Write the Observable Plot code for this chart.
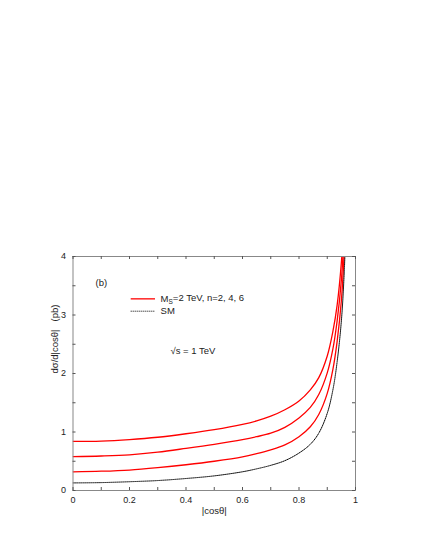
<!DOCTYPE html>
<html><head><meta charset="utf-8">
<script src="https://cdn.jsdelivr.net/npm/d3@7"></script>
<script src="https://cdn.jsdelivr.net/npm/@observablehq/plot@0.6"></script>
<style>
html,body{margin:0;padding:0;background:#fff;}
#chart svg{display:block;}
</style>
</head><body><div id="chart"></div>
<script>
// ---- data ----
const cosTheta = [0, 0.1, 0.2, 0.3, 0.4, 0.5, 0.6, 0.65, 0.7, 0.75, 0.8, 0.84, 0.87, 0.9, 0.92, 0.935, 0.95, 0.96, 0.97];
const ms2_n2 = [0.84, 0.845, 0.87, 0.91, 0.97, 1.04, 1.13, 1.19, 1.27, 1.38, 1.53, 1.72, 1.93, 2.30, 2.72, 3.17, 3.90, 4.72, 6.10];
const ms2_n4 = [0.58, 0.59, 0.61, 0.655, 0.72, 0.79, 0.87, 0.92, 0.98, 1.08, 1.24, 1.42, 1.64, 2.01, 2.42, 2.90, 3.60, 4.42, 5.80];
const ms2_n6 = [0.32, 0.33, 0.35, 0.39, 0.44, 0.50, 0.575, 0.63, 0.695, 0.78, 0.92, 1.09, 1.30, 1.66, 2.07, 2.55, 3.25, 4.07, 5.45];
const sm     = [0.13, 0.135, 0.15, 0.17, 0.205, 0.25, 0.32, 0.37, 0.43, 0.51, 0.64, 0.79, 0.98, 1.32, 1.72, 2.20, 2.90, 3.72, 5.10];

const xTicks = [0, 0.1, 0.2, 0.3, 0.4, 0.5, 0.6, 0.7, 0.8, 0.9, 1];
const xTickLabels = [0, 0.2, 0.4, 0.6, 0.8, 1];
const yTicks = [0, 0.5, 1, 1.5, 2, 2.5, 3, 3.5, 4];
const yTickLabels = [0, 1, 2, 3, 4];

const xLabel = "|cosθ|";
const yLabel = "dσ/d|cosθ|\u00a0\u00a0\u00a0(pb)";
const panelLabel = "(b)";
const legendNP = "M_S=2 TeV, n=2, 4, 6";
const legendSM = "SM";
const energyNote = "√s = 1 TeV";

// ---- build table ----
const redSeries = [["n=2", ms2_n2], ["n=4", ms2_n4], ["n=6", ms2_n6]];
const redRows = redSeries.flatMap(([name, ys]) => cosTheta.map((x, i) => ({series: name, x, y: ys[i]})));
const smRows = cosTheta.map((x, i) => ({series: "SM", x, y: sm[i]}));

// ---- layout / style ----
const W = 428, H = 554;
const M = {left: 72.5, right: 73, top: 256, bottom: 64};
const frameW = W - M.left - M.right, frameH = H - M.top - M.bottom;
const RED = "#ff0000";
const GRAY = "#888";
const TICKCOLOR = "#555";
const TXT = "#222";
const TICK = 3;
const SMDASH = "1,1";
const legendX1 = 0.206, legendX2 = 0.292, legendTextX = 0.31;
const legendYNP = 3.276, legendYSM = 3.065;

const chart = Plot.plot({
  width: W,
  height: H,
  marginLeft: M.left,
  marginRight: M.right,
  marginTop: M.top,
  marginBottom: M.bottom,
  style: {fontFamily: "'Liberation Sans', Arial, Helvetica, sans-serif", fontSize: "9px", color: TXT, background: "#fff"},
  x: {domain: [0, 1]},
  y: {domain: [0, 4]},
  marks: [
    Plot.line(redRows, {x: "x", y: "y", z: "series", stroke: RED, strokeWidth: 1.3, curve: "catmull-rom", clip: true}),
    Plot.line(smRows, {x: "x", y: "y", stroke: "#000", strokeWidth: 1, strokeDasharray: SMDASH, curve: "catmull-rom", clip: true}),
    Plot.frame({stroke: GRAY, strokeWidth: 1}),
    // inward ticks on all four sides
    Plot.tickX(xTicks, {x: d => d, stroke: TICKCOLOR, strokeWidth: 1, insetTop: frameH - TICK}),
    Plot.tickX(xTicks, {x: d => d, stroke: TICKCOLOR, strokeWidth: 1, insetBottom: frameH - TICK}),
    Plot.tickY(yTicks, {y: d => d, stroke: TICKCOLOR, strokeWidth: 1, insetRight: frameW - TICK}),
    Plot.tickY(yTicks, {y: d => d, stroke: TICKCOLOR, strokeWidth: 1, insetLeft: frameW - TICK}),
    // tick labels
    Plot.axisX(xTickLabels, {anchor: "bottom", tickSize: 0, tickPadding: 6, fontSize: 9, fill: TXT, label: null, tickFormat: d => String(d)}),
    Plot.axisY(yTickLabels, {anchor: "left", tickSize: 0, tickPadding: 7, fontSize: 9, fill: TXT, label: null, tickFormat: d => String(d)}),
    // axis titles
    Plot.text([xLabel], {text: d => d, frameAnchor: "bottom", dy: 23, fontSize: 9.5, fill: TXT}),
    Plot.text([yLabel], {text: d => d, frameAnchor: "left", dx: -18.5, rotate: -90, fontSize: 9.5, fill: TXT}),
    // annotations
    Plot.text([panelLabel], {x: 0.08, y: 3.555, text: d => d, textAnchor: "start", fontSize: 9.5, fill: TXT}),
    Plot.ruleY([legendYNP], {x1: legendX1, x2: legendX2, stroke: RED, strokeWidth: 1.3}),
    Plot.ruleY([legendYSM], {x1: legendX1, x2: legendX2, stroke: "#000", strokeWidth: 1, strokeDasharray: SMDASH}),
    Plot.text([legendNP], {x: legendTextX, y: legendYNP, text: d => d, textAnchor: "start", fontSize: 9.5, fill: TXT}),
    Plot.text([legendSM], {x: legendTextX, y: legendYSM, text: d => d, textAnchor: "start", fontSize: 9.5, fill: TXT}),
    Plot.text([energyNote], {x: 0.345, y: 2.38, text: d => d, textAnchor: "start", fontSize: 9.5, fill: TXT})
  ]
});

document.getElementById("chart").appendChild(chart);

// subscript S in the legend label
d3.select(chart).selectAll("text").each(function() {
  if (this.textContent === legendNP) {
    const t = d3.select(this);
    t.text(null);
    t.append("tspan").text("M");
    t.append("tspan").attr("font-size", "6.5px").attr("dy", "0.3em").text("S");
    t.append("tspan").attr("dy", "-0.3em").text("=2 TeV, n=2, 4, 6");
  }
});
</script>
</body></html>
